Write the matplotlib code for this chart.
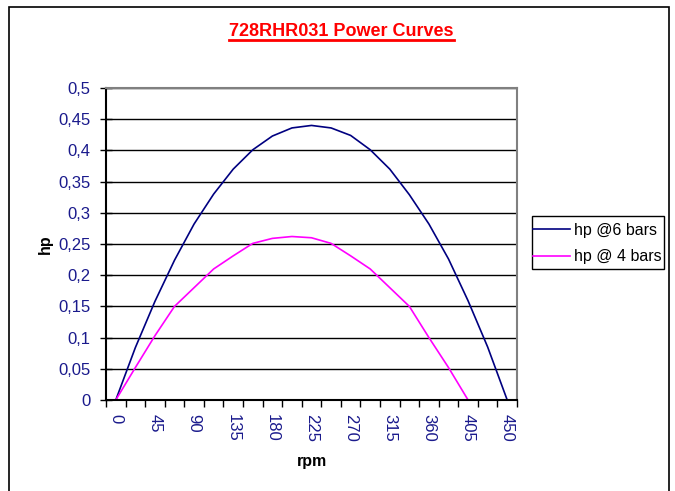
import matplotlib
matplotlib.use("Agg")
import matplotlib.pyplot as plt
from matplotlib.ticker import FixedLocator, FuncFormatter
from matplotlib.lines import Line2D
from matplotlib.patches import Rectangle

# rpm categories and hp values
rpm = [0, 22.5, 45, 67.5, 90, 112.5, 135, 157.5, 180, 202.5, 225,
       247.5, 270, 292.5, 315, 337.5, 360, 382.5, 405, 427.5, 450]
hp_6bars = [0, 0.084, 0.158, 0.224, 0.282, 0.330, 0.370, 0.401, 0.423, 0.436, 0.440,
            0.436, 0.424, 0.401, 0.370, 0.329, 0.282, 0.226, 0.159, 0.085, 0]
rpm_4 = rpm[:19]
hp_4bars = [0, 0.052, 0.103, 0.150, 0.180, 0.210, 0.231, 0.251, 0.259, 0.262,
            0.260, 0.251, 0.231, 0.210, 0.180, 0.150, 0.100, 0.052, 0]
xlabels = [0, 45, 90, 135, 180, 225, 270, 315, 360, 405, 450]

plt.rcParams['font.family'] = ['Liberation Sans', 'DejaVu Sans']
navy = '#1a1a8c'

fig = plt.figure(figsize=(6.75, 4.91), dpi=100)
ax = fig.add_axes([106/675, 1 - 400/491, (517-106)/675, (400-88)/491])

ax.plot(rpm, hp_6bars, color='#000080', lw=1.2, label='hp @6 bars')
ax.plot(rpm_4, hp_4bars, color='#ff00ff', lw=1.2, label='hp @ 4 bars')

ax.set_xlim(-11.25, 461.25)
ax.set_ylim(0, 0.5)

# category style x axis: ticks at boundaries, labels at centres
ax.xaxis.set_major_locator(FixedLocator(xlabels))
ax.xaxis.set_minor_locator(FixedLocator([-11.25 + 22.5 * i for i in range(22)]))
ax.tick_params(axis='x', which='major', length=0, pad=10, labelsize=12,
               labelcolor=navy, labelrotation=-90)
ax.tick_params(axis='x', which='minor', length=5, width=1, direction='out', color='black')
for t in ax.get_xticklabels():
    t.set_va('top')
    t.set_ha('center')

ax.set_yticks([i * 0.05 for i in range(11)])
ax.yaxis.set_major_formatter(FuncFormatter(lambda v, p: ('%g' % round(v, 2)).replace('.', ',')))
ax.tick_params(axis='y', length=8, width=1, direction='inout', labelsize=12,
               labelcolor=navy, pad=7)

ax.grid(axis='y', color='black', lw=1)
ax.set_axisbelow(True)

for s in ['left', 'bottom']:
    ax.spines[s].set_color('black')
    ax.spines[s].set_linewidth(1.5)
for s in ['top', 'right']:
    ax.spines[s].set_color('#808080')
    ax.spines[s].set_linewidth(1.5)

ax.set_xlabel('rpm', fontsize=11.5, fontweight='bold', labelpad=9)
ax.set_ylabel('hp', fontsize=11.5, fontweight='bold', labelpad=4)

# legend without its own frame, box drawn separately
leg = fig.legend(loc='upper left', bbox_to_anchor=(533/675, 1 - 223/491),
                 fontsize=11.5, frameon=False, borderpad=0, borderaxespad=0,
                 handlelength=2.3, handletextpad=0.25, labelspacing=0.72)
fig.add_artist(Rectangle((532/675, 1 - 269/491), (664-532)/675, (269-216)/491,
                         fill=False, edgecolor='black', lw=1, transform=fig.transFigure))

title = fig.text(341.5/675, 1 - 31/491, '728RHR031 Power Curves', color='red',
                 fontsize=13, fontweight='bold', ha='center', va='center')

# underline the title
fig.canvas.draw()
bb = title.get_window_extent(fig.canvas.get_renderer())
bb = bb.transformed(fig.transFigure.inverted())
fig.add_artist(Line2D([bb.x0, bb.x1], [1 - 40/491, 1 - 40/491], color='red', lw=2,
                      transform=fig.transFigure))

# outer chart border
fig.add_artist(Rectangle((9/675, -0.02), (669-9)/675, 1.02 - 7/491, fill=False,
                         edgecolor='black', lw=1.2, transform=fig.transFigure))

fig.savefig('out.png', dpi=100)
